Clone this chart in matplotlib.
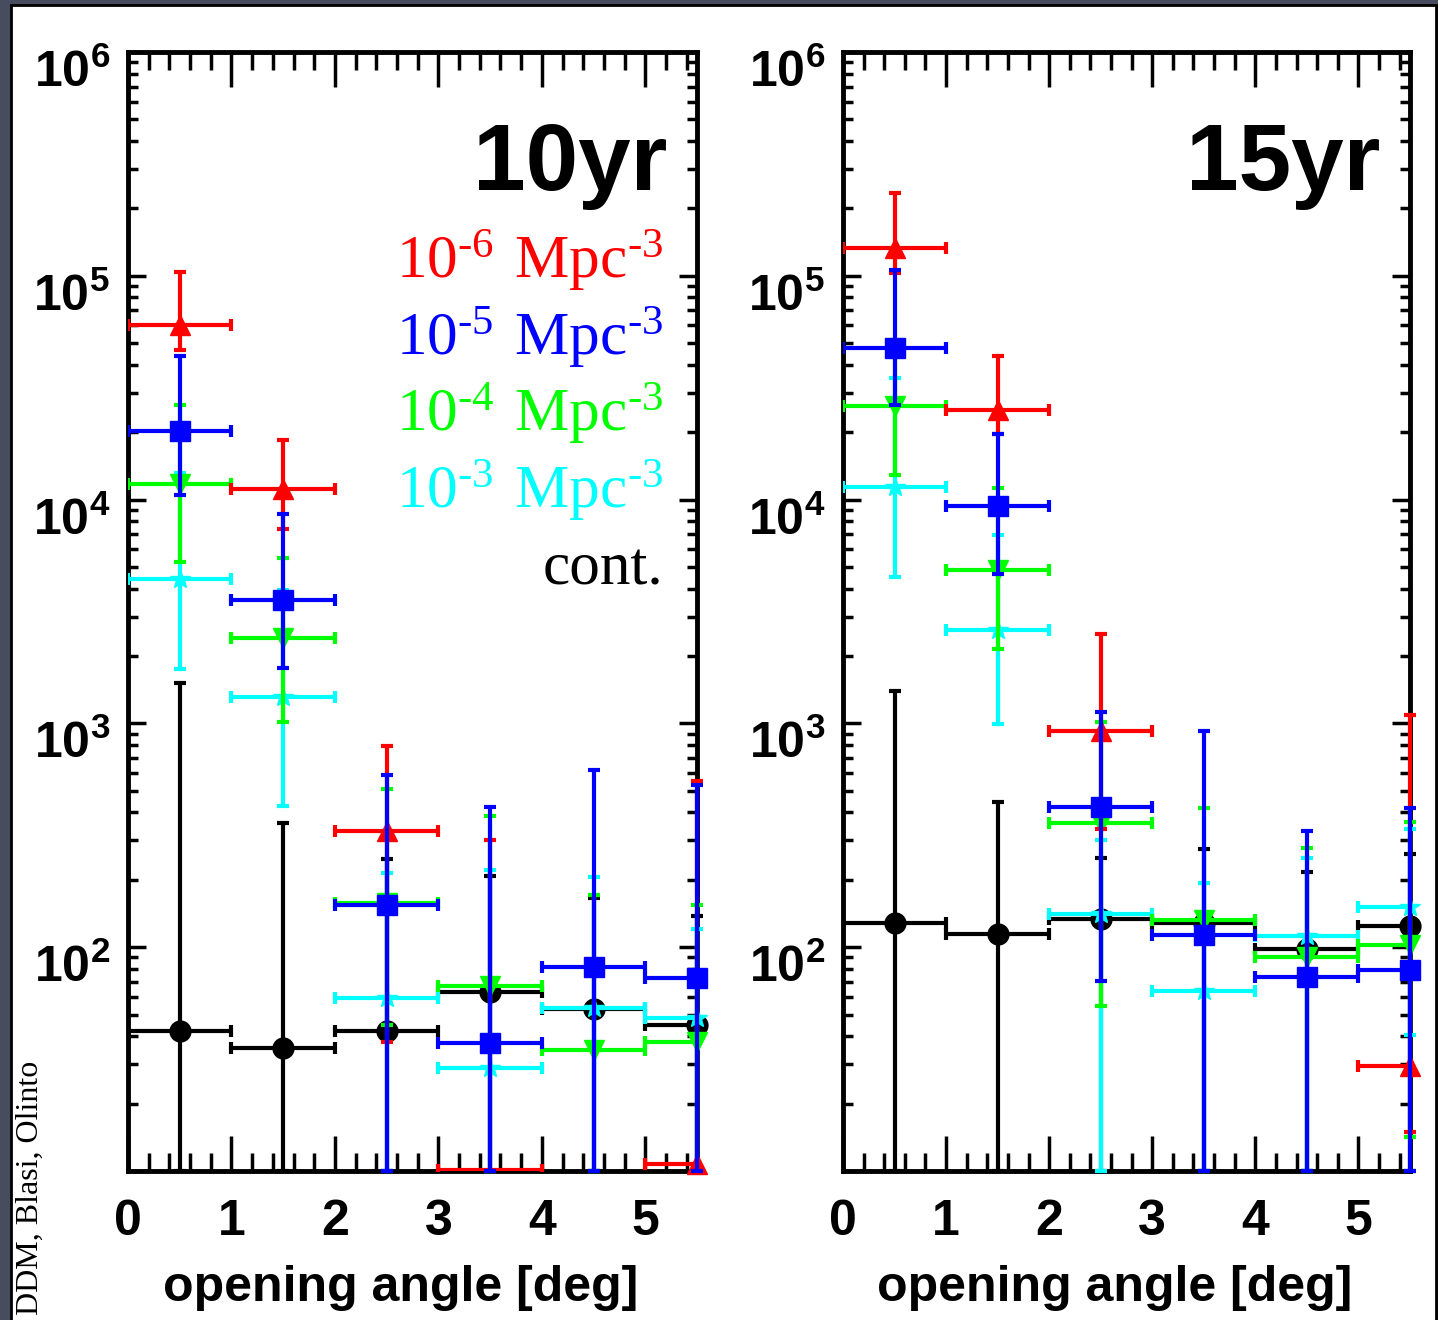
import numpy as np
import matplotlib.pyplot as plt
from matplotlib.patches import Rectangle
from matplotlib.ticker import FixedLocator, LogLocator, MultipleLocator, NullFormatter
from matplotlib.transforms import ScaledTranslation

plt.rcParams['mathtext.fontset'] = 'custom'
plt.rcParams['mathtext.rm'] = 'Liberation Serif'

nan = np.nan

# bin centres of the opening angle histogram [deg]
bins = [0.5, 1.5, 2.5, 3.5, 4.5, 5.5]
x_ticks = [0, 1, 2, 3, 4, 5]
y_ticks = [1e2, 1e3, 1e4, 1e5, 1e6]
y_tick_labels = ['2', '3', '4', '5', '6']

# ---- 10 yr panel: value, lower end, upper end of error bar
red_10 = [60400, 11170, 330, 10.15, nan, 10.7]
red_10_lo = [46700, 7400, 37.7, 10, nan, 10]
red_10_hi = [104500, 18400, 790, 300, nan, 551]

blue_10 = [20200, 3550, 155, 37.2, 81.4, 72.8]
blue_10_lo = [10500, 1770, 10, 10, 10, 10]
blue_10_hi = [43600, 8660, 586, 422, 617, 530]

green_10 = [11700, 2410, 158, 67.2, 34.8, 37.7]
green_10_lo = [5270, 1014, 45, 10, 10, 10]
green_10_hi = [26500, 5500, 507, 386, 171, 155]

cyan_10 = [4430, 1310, 59.2, 28.8, 53.4, 48.2]
cyan_10_lo = [1750, 426, 10, 10, 10, 10]
cyan_10_hi = [13150, 3960, 214, 221, 205, 120]

black_10 = [42.3, 35.3, 42.3, 63, 52.8, 45]
black_10_lo = [10, 10, 10, 10, 10, 10]
black_10_hi = [1520, 358, 247, 208, 166, 138]

# ---- 15 yr panel
red_15 = [133000, 25200, 920, nan, nan, 29.5]
red_15_lo = [103000, 19700, 336, nan, nan, 15]
red_15_hi = [234000, 43600, 2500, nan, nan, 1087]

blue_15 = [47600, 9400, 423, 113, 73.8, 79]
blue_15_lo = [26500, 4630, 70.5, 10, 10, 10]
blue_15_hi = [105700, 19700, 1120, 920, 330, 418]

green_15 = [26300, 4870, 360, 132, 90, 102]
green_15_lo = [12900, 2150, 54.7, 10, 10, 14.2]
green_15_hi = [51800, 11300, 1010, 418, 277, 361]

cyan_15 = [11400, 2610, 140, 63.8, 112, 151]
cyan_15_lo = [4520, 991, 10, 10, 10, 40.5]
cyan_15_hi = [34900, 6960, 300, 193, 250, 336]

black_15 = [128, 115, 133, 128, 98, 124.5]
black_15_lo = [10, 10, 10, 10, 10, 10]
black_15_hi = [1390, 444, 250, 274, 217, 260]

legend_labels = [r'$\mathregular{10^{\text{-6}}\ Mpc^{\text{-3}}}$',
                 r'$\mathregular{10^{\text{-5}}\ Mpc^{\text{-3}}}$',
                 r'$\mathregular{10^{\text{-4}}\ Mpc^{\text{-3}}}$',
                 r'$\mathregular{10^{\text{-3}}\ Mpc^{\text{-3}}}$', 'cont.']
legend_colors = ['#ff0000', '#0000ff', '#00ff00', '#00ffff', 'black']

RED, BLUE, GREEN, CYAN, BLACK = '#ff0000', '#0000ff', '#00ff00', '#00ffff', 'black'


def draw_series(ax, vals, lo, hi, color, marker, z):
    v = np.array(vals, dtype=float)
    yerr = [v - np.array(lo, dtype=float), np.array(hi, dtype=float) - v]
    cont = ax.errorbar(bins, v, xerr=0.5, yerr=yerr, fmt='none', ecolor=color,
                       elinewidth=3, capsize=4.5, capthick=3, zorder=z)
    # vertical bars at the right edge sit on the frame, keep them whole
    cont.lines[2][1].set_clip_on(False)
    for cap in cont.lines[1][2:]:
        cap.set_clip_on(False)
    shown = np.where(v > 10.5, v, nan)
    ax.plot(bins, shown, ls='none', marker=marker, color=color, mec=color,
            ms=15, clip_on=False, zorder=z + 0.5)


def style_axis(ax, title):
    ax.set_yscale('log')
    ax.set_xlim(0, 5.5)
    ax.set_ylim(10, 1e6)
    ax.xaxis.set_major_locator(FixedLocator(x_ticks))
    ax.xaxis.set_minor_locator(MultipleLocator(0.2))
    ax.yaxis.set_major_locator(FixedLocator([1e1] + y_ticks))
    ax.yaxis.set_minor_locator(LogLocator(subs=range(2, 10), numticks=20))
    ax.yaxis.set_major_formatter(NullFormatter())
    ax.yaxis.set_minor_formatter(NullFormatter())
    ax.set_xticklabels([str(t) for t in x_ticks], fontfamily='Liberation Sans',
                       fontweight='bold', fontsize=36)
    ax.tick_params(which='both', direction='in', top=True, right=True, width=2.5)
    ax.tick_params(axis='x', which='major', length=25, pad=20)
    ax.tick_params(axis='x', which='minor', length=13)
    ax.tick_params(axis='y', which='major', length=13)
    ax.tick_params(axis='y', which='minor', length=7)
    for s in ax.spines.values():
        s.set_linewidth(3.5)
    off = ScaledTranslation(-0.18, -0.35, ax.figure.dpi_scale_trans)
    for val, lab in zip(y_ticks, y_tick_labels):
        ax.text(0, val, r'$\mathregular{10^{%s}}$' % lab, transform=ax.get_yaxis_transform() + off,
                ha='right', va='baseline', fontfamily='Liberation Sans', fontweight='bold',
                fontsize=36)
    ax.set_xlabel('opening angle [deg]', fontfamily='Liberation Sans', fontweight='bold',
                  fontsize=36)
    ax.xaxis.set_label_coords(0.48, -0.084)
    ax.text(0.948, 0.877, title, transform=ax.transAxes, ha='right', va='baseline',
            fontfamily='Liberation Sans', fontweight='bold', fontsize=68)


fig = plt.figure(figsize=(14.38, 13.2), dpi=100)
fig.patch.set_facecolor('#474c5e')
fig.patches.append(Rectangle((11 / 1438, -0.01), 1425 / 1438, 1.01 - 5 / 1320,
                             transform=fig.transFigure, facecolor='white',
                             edgecolor='black', linewidth=2, zorder=-1))

ax1 = fig.add_axes([0.0890, 0.1129, 0.3957, 0.8477])
ax2 = fig.add_axes([0.5862, 0.1129, 0.3943, 0.8477])

draw_series(ax1, black_10, black_10_lo, black_10_hi, BLACK, 'o', 3)
draw_series(ax1, cyan_10, cyan_10_lo, cyan_10_hi, CYAN, '*', 4)
draw_series(ax1, green_10, green_10_lo, green_10_hi, GREEN, 'v', 5)
draw_series(ax1, red_10, red_10_lo, red_10_hi, RED, '^', 6)
draw_series(ax1, blue_10, blue_10_lo, blue_10_hi, BLUE, 's', 7)

draw_series(ax2, black_15, black_15_lo, black_15_hi, BLACK, 'o', 3)
draw_series(ax2, cyan_15, cyan_15_lo, cyan_15_hi, CYAN, '*', 4)
draw_series(ax2, green_15, green_15_lo, green_15_hi, GREEN, 'v', 5)
draw_series(ax2, red_15, red_15_lo, red_15_hi, RED, '^', 6)
draw_series(ax2, blue_15, blue_15_lo, blue_15_hi, BLUE, 's', 7)

style_axis(ax1, '10yr')
style_axis(ax2, '15yr')

# density labels in the left panel
for i, (txt, col) in enumerate(zip(legend_labels, legend_colors)):
    ax1.text(0.94, 0.798 - 0.0685 * i, txt, transform=ax1.transAxes, ha='right',
             va='baseline', color=col, fontfamily='Liberation Serif', fontsize=44, zorder=10)

fig.text(30 / 1438, 0.004, 'DDM, Blasi, Olinto', rotation=90, ha='center', va='bottom',
         fontfamily='Liberation Serif', fontsize=23)

fig.savefig('out.png', dpi=100, facecolor=fig.get_facecolor())
